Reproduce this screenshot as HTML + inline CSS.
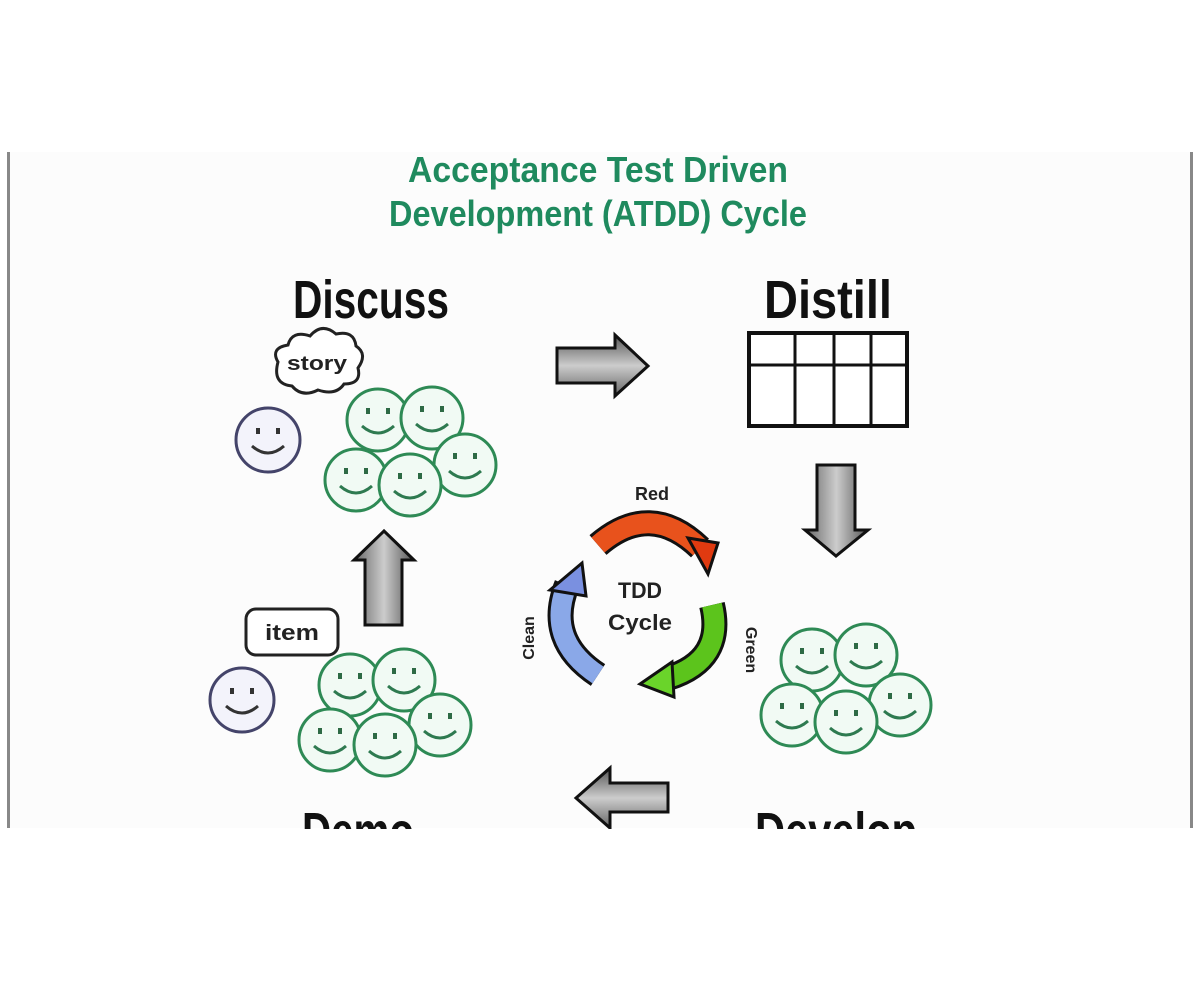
<!DOCTYPE html>
<html><head><meta charset="utf-8"><style>
html,body{margin:0;padding:0;background:#fff;width:1200px;height:981px;overflow:hidden}
svg{display:block}
text{font-family:"Liberation Sans",sans-serif;font-weight:bold}
</style></head><body>
<svg width="1200" height="981" viewBox="0 0 1200 981" xmlns="http://www.w3.org/2000/svg">
<defs>
<linearGradient id="gr" x1="0" y1="0" x2="0" y2="1"><stop offset="0" stop-color="#555"/><stop offset="0.5" stop-color="#ccc"/><stop offset="1" stop-color="#666"/></linearGradient>
<linearGradient id="gv" x1="0" y1="0" x2="1" y2="0"><stop offset="0" stop-color="#666"/><stop offset="0.5" stop-color="#ccc"/><stop offset="1" stop-color="#555"/></linearGradient>
<g id="g"><circle r="31" fill="#f1faf4" stroke="#2e8a55" stroke-width="3"/><rect x="-12" y="-12" width="4" height="6" fill="#2e6a45"/><rect x="8" y="-12" width="4" height="6" fill="#2e6a45"/><path d="M-16 6 Q0 20 16 6" fill="none" stroke="#2e7a50" stroke-width="3"/></g>
<g id="b"><circle r="32" fill="#f3f3fb" stroke="#44446a" stroke-width="3"/><rect x="-12" y="-12" width="4" height="6" fill="#333"/><rect x="8" y="-12" width="4" height="6" fill="#333"/><path d="M-16 6 Q0 20 16 6" fill="none" stroke="#333" stroke-width="3"/></g>
</defs>
<rect x="10" y="152" width="1180" height="676" fill="#fcfcfc"/>
<rect x="7" y="152" width="3" height="676" fill="#888"/>
<rect x="1190" y="152" width="3" height="676" fill="#888"/>
<text x="598" y="182" font-size="36" fill="#1f8a5e" text-anchor="middle" textLength="380" lengthAdjust="spacingAndGlyphs">Acceptance Test Driven</text>
<text x="598" y="226" font-size="36" fill="#1f8a5e" text-anchor="middle" textLength="418" lengthAdjust="spacingAndGlyphs">Development (ATDD) Cycle</text>
<text x="371" y="318" font-size="54" fill="#111" text-anchor="middle" textLength="156" lengthAdjust="spacingAndGlyphs">Discuss</text>
<text x="828" y="318" font-size="54" fill="#111" text-anchor="middle" textLength="128" lengthAdjust="spacingAndGlyphs">Distill</text>
<!-- story cloud -->
<path d="M278 362 Q270 348 288 345 Q292 330 310 336 Q322 322 336 334 Q354 330 356 346 Q368 354 358 368 Q362 384 344 384 Q336 396 318 390 Q302 398 292 386 Q272 384 278 362Z" fill="#fff" stroke="#222" stroke-width="3"/>
<text x="317" y="370" font-size="20" fill="#222" text-anchor="middle" textLength="60" lengthAdjust="spacingAndGlyphs">story</text>
<use href="#b" x="268" y="440"/>
<use href="#g" x="378" y="420"/><use href="#g" x="432" y="418"/><use href="#g" x="465" y="465"/><use href="#g" x="356" y="480"/><use href="#g" x="410" y="485"/>
<!-- right arrow -->
<path d="M557 348 L615 348 L615 335 L648 366 L615 396 L615 383 L557 383Z" fill="url(#gr)" stroke="#111" stroke-width="3"/>
<!-- table -->
<rect x="749" y="333" width="158" height="93" fill="#fff" stroke="#111" stroke-width="4"/>
<line x1="751" y1="365" x2="906" y2="365" stroke="#111" stroke-width="3"/>
<line x1="795" y1="333" x2="795" y2="426" stroke="#111" stroke-width="3"/>
<line x1="834" y1="333" x2="834" y2="426" stroke="#111" stroke-width="3"/>
<line x1="871" y1="333" x2="871" y2="426" stroke="#111" stroke-width="3"/>
<!-- down arrow -->
<path d="M817 465 L855 465 L855 530 L868 530 L836 556 L805 530 L817 530Z" fill="url(#gv)" stroke="#111" stroke-width="3"/>
<!-- up arrow -->
<path d="M365 625 L402 625 L402 560 L414 560 L384 531 L354 560 L365 560Z" fill="url(#gv)" stroke="#111" stroke-width="3"/>
<!-- left arrow -->
<path d="M668 783 L610 783 L610 768 L576 798 L610 828 L610 812 L668 812Z" fill="url(#gr)" stroke="#111" stroke-width="3"/>
<!-- TDD cycle -->
<path d="M598 545 Q650 500 700 548" fill="none" stroke="#111" stroke-width="26"/>
<path d="M598 545 Q650 500 700 548" fill="none" stroke="#e8521c" stroke-width="20"/>
<polygon points="688,538 718,543 708,574 " fill="#e03a10" stroke="#111" stroke-width="3"/>
<path d="M712 605 Q725 660 668 678" fill="none" stroke="#111" stroke-width="26"/>
<path d="M712 605 Q725 660 668 678" fill="none" stroke="#5cc41c" stroke-width="20"/>
<polygon points="672,662 640,684 674,697" fill="#6ad42a" stroke="#111" stroke-width="3"/>
<path d="M598 675 Q545 640 567 585" fill="none" stroke="#111" stroke-width="26"/>
<path d="M598 675 Q545 640 567 585" fill="none" stroke="#8aa8e8" stroke-width="20"/>
<polygon points="550,590 582,563 586,596" fill="#7a90e0" stroke="#111" stroke-width="3"/>
<text x="652" y="500" font-size="18" fill="#222" text-anchor="middle">Red</text>
<text x="640" y="598" font-size="22" fill="#222" text-anchor="middle" textLength="44" lengthAdjust="spacingAndGlyphs">TDD</text>
<text x="640" y="630" font-size="22" fill="#222" text-anchor="middle" textLength="64" lengthAdjust="spacingAndGlyphs">Cycle</text>
<text x="0" y="0" font-size="16" fill="#222" text-anchor="middle" transform="translate(534,638) rotate(-90)">Clean</text>
<text x="0" y="0" font-size="16" fill="#222" text-anchor="middle" transform="translate(746,650) rotate(90)">Green</text>
<!-- item -->
<rect x="246" y="609" width="92" height="46" rx="10" fill="#fff" stroke="#222" stroke-width="3"/>
<text x="292" y="640" font-size="22" fill="#222" text-anchor="middle" textLength="54" lengthAdjust="spacingAndGlyphs">item</text>
<use href="#b" x="242" y="700"/>
<use href="#g" x="350" y="685"/><use href="#g" x="404" y="680"/><use href="#g" x="440" y="725"/><use href="#g" x="330" y="740"/><use href="#g" x="385" y="745"/>
<use href="#g" x="812" y="660"/><use href="#g" x="866" y="655"/><use href="#g" x="900" y="705"/><use href="#g" x="792" y="715"/><use href="#g" x="846" y="722"/>
<text x="358" y="850" font-size="54" fill="#111" text-anchor="middle" textLength="112" lengthAdjust="spacingAndGlyphs">Demo</text>
<text x="836" y="850" font-size="54" fill="#111" text-anchor="middle" textLength="162" lengthAdjust="spacingAndGlyphs">Develop</text>
<rect x="0" y="829" width="1200" height="152" fill="#fff"/>
</svg>
</body></html>
